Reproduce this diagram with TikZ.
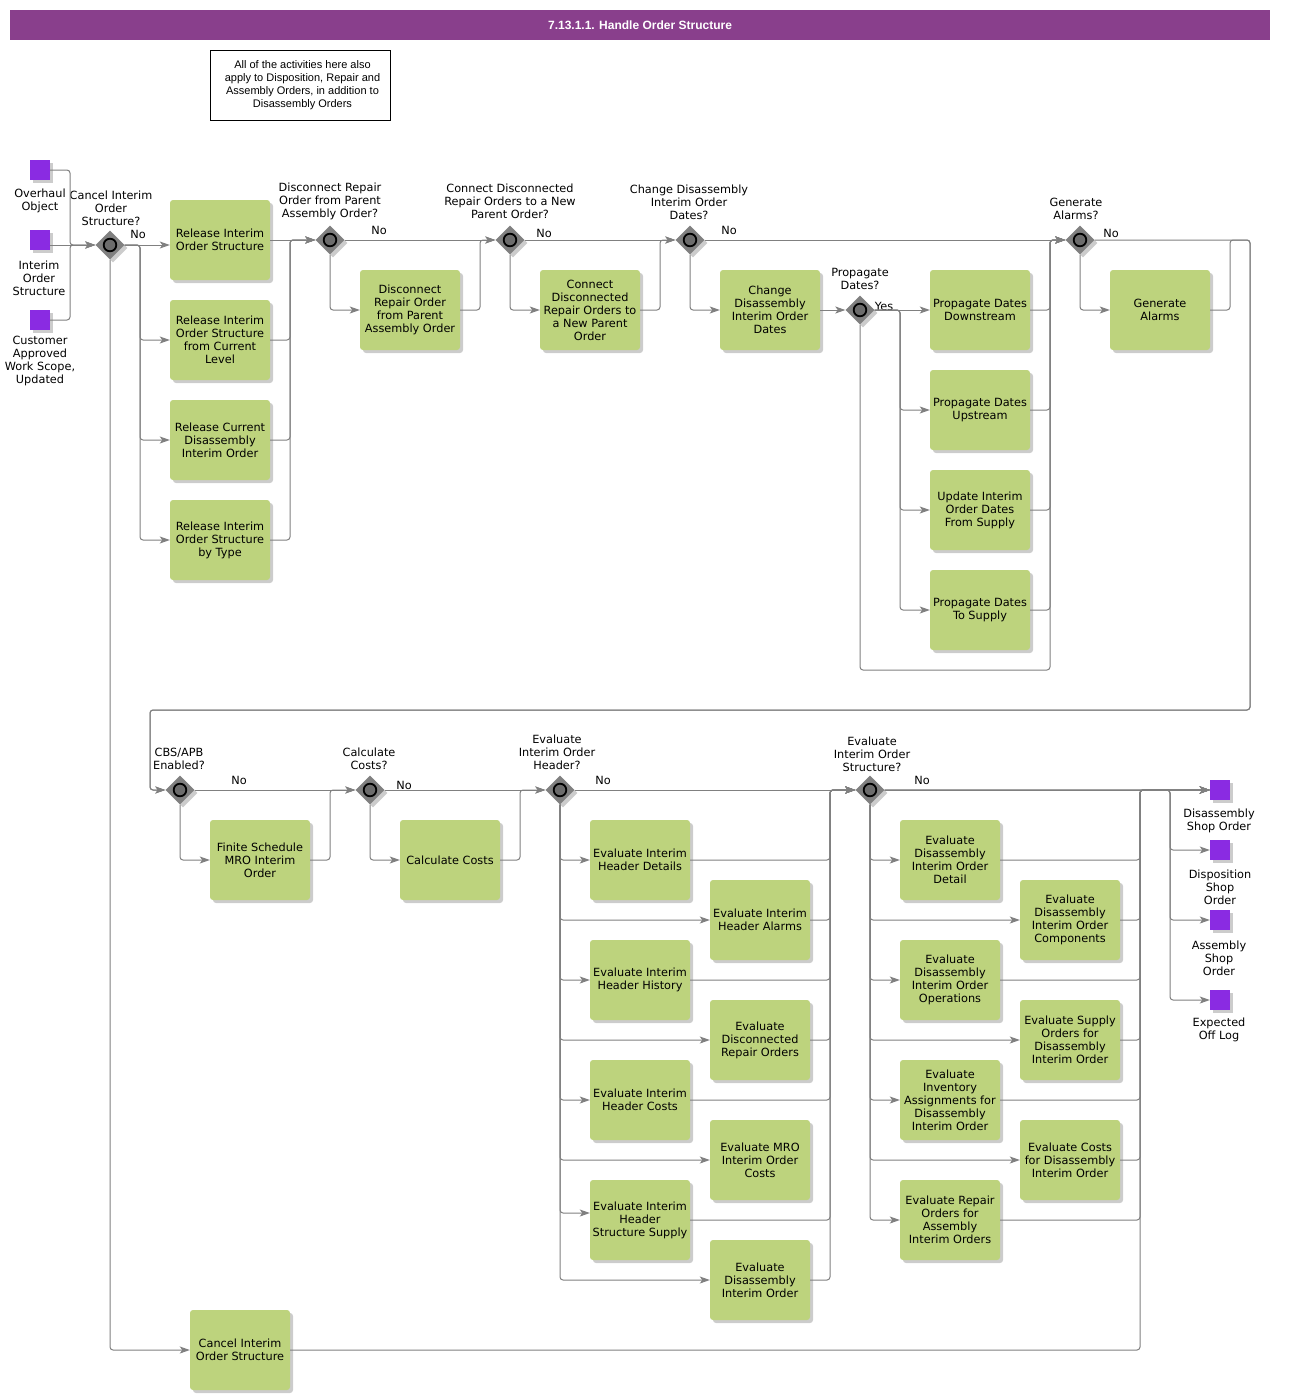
\documentclass[tikz,border=0pt]{standalone}
\usepackage{fontspec}
\setmainfont{DejaVu Sans}
\newfontfamily\arialfont{Liberation Sans}
\usetikzlibrary{shapes.geometric,arrows.meta,shadows}
\definecolor{titlebar}{RGB}{137,63,140}
\definecolor{taskgreen}{RGB}{189,211,125}
\definecolor{dataviolet}{RGB}{138,43,226}
\definecolor{flowgray}{RGB}{128,128,128}
\definecolor{gwgray}{RGB}{128,128,128}
\definecolor{gwinner}{RGB}{108,108,108}
\tikzset{
  txt/.style={font=\fontsize{11.3}{13}\selectfont, align=center, inner sep=0pt},
  shad/.style={drop shadow={shadow xshift=3pt, shadow yshift=-3pt, fill=black, opacity=0.2}},
  task/.style={txt, rectangle, rounded corners=3pt, fill=taskgreen, minimum width=100pt, minimum height=80pt, shad},
  gw/.style={diamond, fill=gwgray, minimum width=29pt, minimum height=29pt, inner sep=0pt, shad},
  gwring/.style={draw=black, fill=gwinner, line width=1.8pt},
  dataobj/.style={rectangle, fill=dataviolet, minimum width=20pt, minimum height=20pt, inner sep=0pt, shad},
  flow/.style={draw=flowgray, line width=1pt, rounded corners=3pt, -{Stealth[length=10pt,width=7pt,inset=2.5pt]}},
}
\begin{document}
\begin{tikzpicture}[x=1pt,y=-1pt]
\useasboundingbox (0,0) rectangle (1300,1400);
\fill[white] (0,0) rectangle (1300,1400);

% title and note
\node[fill=titlebar, minimum width=1260pt, minimum height=30pt, inner sep=0pt, text=white, font=\arialfont\bfseries\fontsize{12}{14}\selectfont] (title) at (640,25) {7.13.1.1. Handle Order Structure};
\node[draw=black, line width=0.8pt, minimum width=180pt, minimum height=70pt, inner sep=0pt, align=center, font=\arialfont\fontsize{11}{13}\selectfont] (note) at (300,85) {};
\node[align=center, inner sep=0pt, font=\arialfont\fontsize{11}{13}\selectfont] (notetext) at (302.5,85) {All of the activities here also\\apply to Disposition, Repair and\\Assembly Orders, in addition to\\Disassembly Orders};

% data objects (inputs)
\node[dataobj] (s1) at (40,170) {};
\node[txt] (s1l) at (40,200.5) {Overhaul\\Object};
\node[dataobj] (s2) at (40,240) {};
\node[txt] (s2l) at (39,278) {Interim\\Order\\Structure};
\node[dataobj] (s3) at (40,320) {};
\node[txt] (s3l) at (40,360.5) {Customer\\Approved\\Work Scope,\\Updated};

% data objects (outputs)
\node[dataobj] (e1) at (1220,790) {};
\node[txt] (e1l) at (1219,820.5) {Disassembly\\Shop Order};
\node[dataobj] (e2) at (1220,850) {};
\node[txt] (e2l) at (1220,887) {Disposition\\Shop\\Order};
\node[dataobj] (e3) at (1220,920) {};
\node[txt] (e3l) at (1219,958) {Assembly\\Shop\\Order};
\node[dataobj] (e4) at (1220,1000) {};
\node[txt] (e4l) at (1219,1029.5) {Expected\\Off Log};

% gateways
\foreach \n/\x/\y in {g1/110/245, g2/330/240, g3/510/240, g4/690/240, g5/860/310, g6/1080/240, g7/180/790, g8/370/790, g9/560/790, g10/870/790}{
  \node[gw] (\n) at (\x,\y) {};
  \draw[gwring] (\n.center) circle[radius=6.3pt];
}
\node[txt] (g1l) at (111,208) {Cancel Interim\\Order\\Structure?};
\node[txt] (g2l) at (330,201) {Disconnect Repair\\Order from Parent\\Assembly Order?};
\node[txt] (g3l) at (510,201) {Connect Disconnected\\Repair Orders to a New\\Parent Order?};
\node[txt] (g4l) at (689,202) {Change Disassembly\\Interim Order\\Dates?};
\node[txt] (g5l) at (860,278.5) {Propagate\\Dates?};
\node[txt] (g6l) at (1076,208.5) {Generate\\Alarms?};
\node[txt] (g7l) at (179,758.5) {CBS/APB\\Enabled?};
\node[txt] (g8l) at (369,758.5) {Calculate\\Costs?};
\node[txt] (g9l) at (557,752) {Evaluate\\Interim Order\\Header?};
\node[txt] (g10l) at (872,754) {Evaluate\\Interim Order\\Structure?};

\node[txt] (n1) at (138,234) {No};
\node[txt] (n2) at (379,230) {No};
\node[txt] (n3) at (544,233) {No};
\node[txt] (n4) at (729,230) {No};
\node[txt] (y5) at (884,306) {Yes};
\node[txt] (n6) at (1111,233) {No};
\node[txt] (n7) at (239,780) {No};
\node[txt] (n8) at (404,785) {No};
\node[txt] (n9) at (603,780) {No};
\node[txt] (n10) at (922,780) {No};

% tasks
\node[task] (b1) at (220,240) {Release Interim\\Order Structure};
\node[task] (b2) at (220,340) {Release Interim\\Order Structure\\from Current\\Level};
\node[task] (b3) at (220,440) {Release Current\\Disassembly\\Interim Order};
\node[task] (b4) at (220,540) {Release Interim\\Order Structure\\by Type};
\node[task] (b5) at (410,310) {Disconnect\\Repair Order\\from Parent\\Assembly Order};
\node[task] (b6) at (590,310) {Connect\\Disconnected\\Repair Orders to\\a New Parent\\Order};
\node[task] (b7) at (770,310) {Change\\Disassembly\\Interim Order\\Dates};
\node[task] (b8) at (980,310) {Propagate Dates\\Downstream};
\node[task] (b9) at (980,410) {Propagate Dates\\Upstream};
\node[task] (b10) at (980,510) {Update Interim\\Order Dates\\From Supply};
\node[task] (b11) at (980,610) {Propagate Dates\\To Supply};
\node[task] (b12) at (1160,310) {Generate\\Alarms};
\node[task] (b13) at (260,860) {Finite Schedule\\MRO Interim\\Order};
\node[task] (b14) at (450,860) {Calculate Costs};
\node[task] (c1) at (640,860) {Evaluate Interim\\Header Details};
\node[task] (c2) at (760,920) {Evaluate Interim\\Header Alarms};
\node[task] (c3) at (640,980) {Evaluate Interim\\Header History};
\node[task] (c4) at (760,1040) {Evaluate\\Disconnected\\Repair Orders};
\node[task] (c5) at (640,1100) {Evaluate Interim\\Header Costs};
\node[task] (c6) at (760,1160) {Evaluate MRO\\Interim Order\\Costs};
\node[task] (c7) at (640,1220) {Evaluate Interim\\Header\\Structure Supply};
\node[task] (c8) at (760,1280) {Evaluate\\Disassembly\\Interim Order};
\node[task] (d1) at (950,860) {Evaluate\\Disassembly\\Interim Order\\Detail};
\node[task] (d2) at (1070,920) {Evaluate\\Disassembly\\Interim Order\\Components};
\node[task] (d3) at (950,980) {Evaluate\\Disassembly\\Interim Order\\Operations};
\node[task] (d4) at (1070,1040) {Evaluate Supply\\Orders for\\Disassembly\\Interim Order};
\node[task] (d5) at (950,1100) {Evaluate\\Inventory\\Assignments for\\Disassembly\\Interim Order};
\node[task] (d6) at (1070,1160) {Evaluate Costs\\for Disassembly\\Interim Order};
\node[task] (d7) at (950,1220) {Evaluate Repair\\Orders for\\Assembly\\Interim Orders};
\node[task] (b15) at (240,1350) {Cancel Interim\\Order Structure};

% connectors: inputs
\draw[flow] (s1.east) -- (70,170) -- (70,245) -- (g1.west);
\draw[flow] (s2.east |- g1) -- (g1.west);
\draw[flow] (s3.east) -- (70,320) -- (70,245) -- (g1.west);

% gateway 1
\draw[flow] (g1.east) -- (b1.west |- g1);
\draw[flow] (g1.east) -- (140,245) -- (140,340) -- (b2.west);
\draw[flow] (g1.east) -- (140,245) -- (140,440) -- (b3.west);
\draw[flow] (g1.east) -- (140,245) -- (140,540) -- (b4.west);
\draw[flow] (g1.south) -- (110,1350) -- (b15.west);

\draw[flow] (b1.east) -- (g2.west);
\draw[flow] (b2.east) -- (290,340) -- (290,240) -- (g2.west);
\draw[flow] (b3.east) -- (290,440) -- (290,240) -- (g2.west);
\draw[flow] (b4.east) -- (290,540) -- (290,240) -- (g2.west);

% gateway 2
\draw[flow] (g2.east) -- (g3.west);
\draw[flow] (g2.south) |- (b5.west);
\draw[flow] (b5.east) -- (480,310) -- (480,240) -- (g3.west);

% gateway 3
\draw[flow] (g3.east) -- (g4.west);
\draw[flow] (g3.south) |- (b6.west);
\draw[flow] (b6.east) -- (660,310) -- (660,240) -- (g4.west);

% gateway 4
\draw[flow] (g4.east) -- (g6.west);
\draw[flow] (g4.south) |- (b7.west);
\draw[flow] (b7.east) -- (g5.west);

% gateway 5
\draw[flow] (g5.east) -- (b8.west);
\draw[flow] (g5.east) -- (900,310) -- (900,410) -- (b9.west);
\draw[flow] (g5.east) -- (900,310) -- (900,510) -- (b10.west);
\draw[flow] (g5.east) -- (900,310) -- (900,610) -- (b11.west);
\draw[flow] (g5.south) -- (860,670) -- (1050,670) -- (1050,240) -- (g6.west);
\draw[flow] (b8.east) -- (1050,310) -- (1050,240) -- (g6.west);
\draw[flow] (b9.east) -- (1050,410) -- (1050,240) -- (g6.west);
\draw[flow] (b10.east) -- (1050,510) -- (1050,240) -- (g6.west);
\draw[flow] (b11.east) -- (1050,610) -- (1050,240) -- (g6.west);

% gateway 6
\draw[flow] (g6.south) |- (b12.west);
\draw[flow] (g6.east) -- (1250,240) -- (1250,710) -- (150,710) -- (150,790) -- (g7.west);
\draw[flow] (b12.east) -- (1230,310) -- (1230,240) -- (1250,240) -- (1250,710) -- (150,710) -- (150,790) -- (g7.west);

% gateway 7
\draw[flow] (g7.east) -- (g8.west);
\draw[flow] (g7.south) |- (b13.west);
\draw[flow] (b13.east) -- (330,860) -- (330,790) -- (g8.west);

% gateway 8
\draw[flow] (g8.east) -- (g9.west);
\draw[flow] (g8.south) |- (b14.west);
\draw[flow] (b14.east) -- (520,860) -- (520,790) -- (g9.west);

% gateway 9
\draw[flow] (g9.east) -- (g10.west);
\foreach \c in {c1,c2,c3,c4,c5,c8}{
  \draw[flow] (g9.south) |- (\c.west);
}
\draw[flow] (g9.south) -- (560,1160) -- (c6.west);
\draw[flow] (g9.south) -- (560,1213) -- (c7.west |- 0,1213);
\foreach \c in {c1,c2,c3,c4,c5,c8}{
  \draw[flow] (\c.east) -- (830,0 |- \c.east) -- (830,790) -- (g10.west);
}
\draw[flow] (c7.east) -- (830,1220) -- (830,790) -- (g10.west);

% gateway 10
\draw[flow] (g10.east) -- (e1.west);
\foreach \d in {d1,d2,d3,d4,d5,d6,d7}{
  \draw[flow] (g10.south) |- (\d.west);
  \draw[flow] (\d.east) -- (1140,0 |- \d.east) -- (1140,790) -- (e1.west);
}
\draw[flow] (b15.east) -- (1140,1350) -- (1140,790) -- (e1.west);
\draw[flow] (g10.east) -- (1170,790) -- (1170,850) -- (e2.west);
\draw[flow] (g10.east) -- (1170,790) -- (1170,920) -- (e3.west);
\draw[flow] (g10.east) -- (1170,790) -- (1170,1000) -- (e4.west);
\end{tikzpicture}
\end{document}
